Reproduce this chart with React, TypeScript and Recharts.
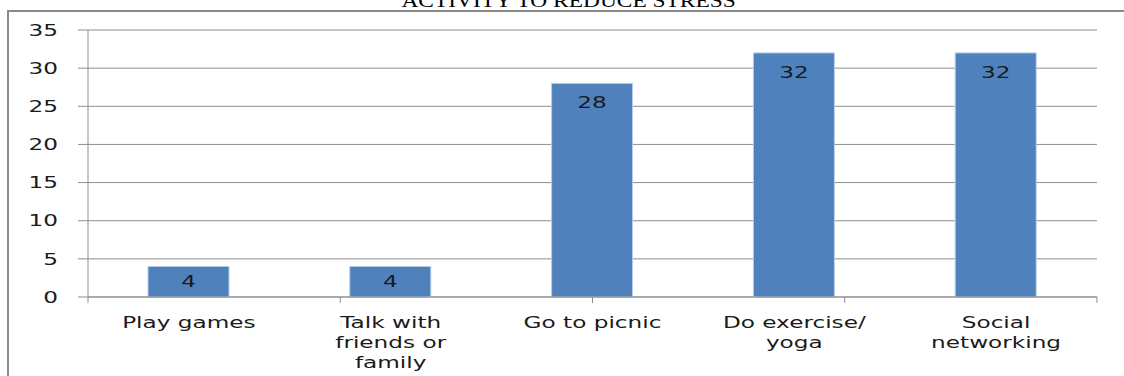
import React from "react";
import { BarChart, Bar, XAxis, YAxis, CartesianGrid, LabelList } from "recharts";

const categories = ["Play games", "Talk with\nfriends or\nfamily", "Go to picnic", "Do exercise/\nyoga", "Social\nnetworking"];
const values = [4, 4, 28, 32, 32];
const yTicks = [0, 5, 10, 15, 20, 25, 30, 35];
const boundaryTicks = [0, 1, 2, 3, 4, 5];
const title = "ACTIVITY TO REDUCE STRESS";

const data = categories.map((c, i) => ({ name: c, value: values[i] }));

const FONT = "'DejaVu Sans', Verdana, sans-serif";
const SX = 1.45;
const GRID = "#8e8e8e";

const YTick = (props: any) => {
  const { x, y, payload } = props;
  return (
    <g transform={`translate(${x},${y}) scale(${SX},1)`}>
      <text x={0} y={0} dy="0.36em" textAnchor="end" fontFamily={FONT} fontSize={16} fill="#1a1a1a">
        {payload.value}
      </text>
    </g>
  );
};

const XTick = (props: any) => {
  const { x, y, payload } = props;
  const lines = String(payload.value).split("\n");
  return (
    <g transform={`translate(${x},${y}) scale(${SX},1)`}>
      <text x={0} y={0} textAnchor="middle" fontFamily={FONT} fontSize={16} fill="#1a1a1a">
        {lines.map((l, i) => (
          <tspan key={i} x={0} y={24 + i * 20} dy="0.36em">
            {l}
          </tspan>
        ))}
      </text>
    </g>
  );
};

const BoundaryTick = (props: any) => {
  const { x, y } = props;
  return <line x1={x} y1={y} x2={x} y2={y + 6} stroke={GRID} strokeWidth={1} />;
};

const BarLabel = (props: any) => {
  const { x, y, width, height, value } = props;
  const cx = x + width / 2;
  const off = height < 40 ? 15 : 19;
  return (
    <g transform={`translate(${cx},${y + off}) scale(${SX},1)`}>
      <text x={0} y={0} dy="0.36em" textAnchor="middle" fontFamily={FONT} fontSize={16} fill="#1a1a1a">
        {value}
      </text>
    </g>
  );
};

export default function App() {
  return (
    <div style={{ position: "absolute", left: 0, top: 0, width: 1124, height: 376, background: "#fff", overflow: "hidden" }}>
      <div
        style={{
          position: "absolute",
          left: 7,
          top: 10,
          width: 1124,
          height: 400,
          borderLeft: "2px solid #8a8a8a",
          borderTop: "2px solid #8a8a8a",
          boxSizing: "border-box",
        }}
      />
      <div
        style={{
          position: "absolute",
          left: 0,
          width: 1124,
          top: -9,
          textAlign: "center",
          fontFamily: "'Liberation Serif', 'Times New Roman', serif",
          fontSize: 18,
          lineHeight: "20px",
          color: "#000",
        }}
      >
        <span style={{ display: "inline-block", transform: "scaleX(1.3)", marginLeft: 14 }}>{title}</span>
      </div>
      <div style={{ position: "absolute", left: 0, top: 0 }}>
        <BarChart width={1124} height={376} data={data} margin={{ top: 30, right: 27, bottom: 0, left: 0 }}>
          <CartesianGrid horizontal={true} vertical={false} stroke={GRID} strokeWidth={1} />
          <XAxis
            xAxisId="b"
            type="number"
            domain={[0, 5]}
            ticks={boundaryTicks}
            allowDataOverflow
            height={1}
            tickSize={0}
            tickMargin={0}
            tickLine={false}
            interval={0}
            axisLine={{ stroke: GRID }}
            tick={<BoundaryTick />}
          />
          <XAxis
            xAxisId="cat"
            dataKey="name"
            height={78}
            axisLine={false}
            tickLine={false}
            tickSize={0}
            tickMargin={0}
            interval={0}
            tick={<XTick />}
          />
          <YAxis
            width={88}
            domain={[0, 35]}
            ticks={yTicks}
            interval={0}
            tickSize={10}
            tickMargin={20}
            axisLine={{ stroke: GRID }}
            tickLine={{ stroke: GRID }}
            tick={<YTick />}
          />
          <Bar xAxisId="cat" dataKey="value" fill="#4F81BD" stroke="#B9CDE5" strokeWidth={1} barSize={81} isAnimationActive={false}>
            <LabelList dataKey="value" content={<BarLabel />} />
          </Bar>
        </BarChart>
      </div>
    </div>
  );
}
